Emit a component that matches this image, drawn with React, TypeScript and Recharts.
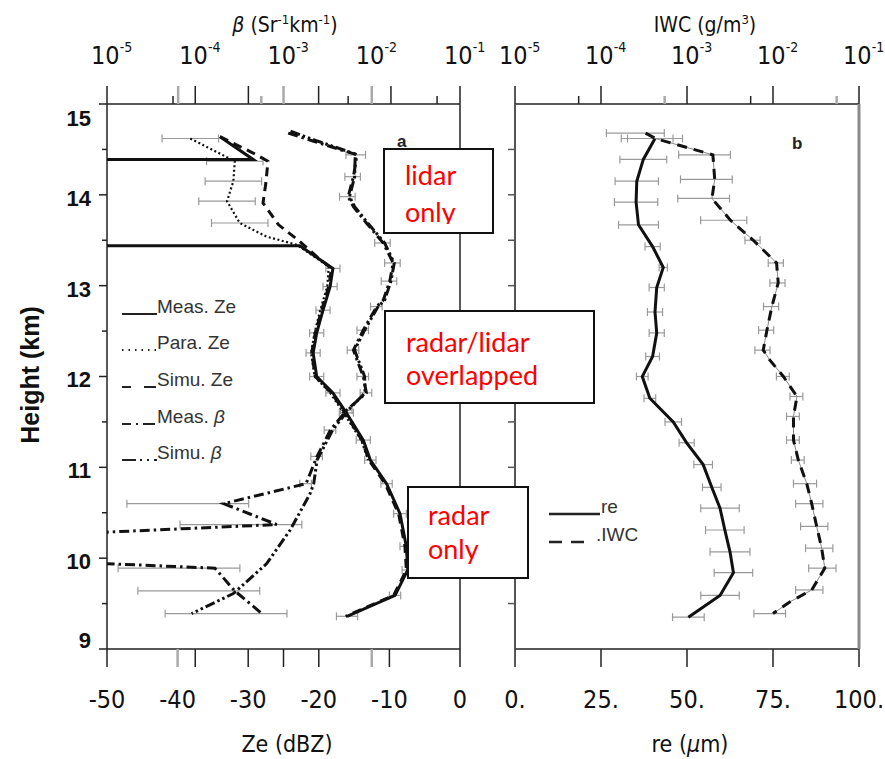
import React from "react";
import { ScatterChart, Scatter, XAxis, YAxis, ErrorBar } from "recharts";

// ---------- panel a : Ze (dBZ, bottom axis) and beta (Sr-1 km-1, top log axis) ----------
// -80 dBZ / 1e-7 mark levels with no signal (they run off the left edge)
const measZeHeight = [14.64, 14.39, 14.39, 13.44, 13.44, 13.19, 12.99, 12.73, 12.48, 12.26, 12.0, 11.82, 11.6, 11.3, 11.08, 10.82, 10.49, 10.13, 9.87, 9.59, 9.36];
const measZeValue = [-34.0, -29.3, -80, -80, -22.7, -18.0, -18.4, -19.4, -20.3, -20.8, -20.3, -18.0, -16.1, -13.7, -12.7, -10.4, -8.5, -7.6, -7.4, -9.2, -16.0];
const measZeError = [0, 0, 0, 0, 0, 1.0, 1.0, 1.0, 1.0, 1.0, 1.0, 1.0, 1.0, 1.0, 0.8, 0.8, 0.9, 0.9, 0.8, 0.8, 1.5];

const paraZeHeight = [14.62, 14.37, 14.15, 13.93, 13.69, 13.54, 13.45, 13.21, 12.99, 12.73, 12.48, 12.26, 12.0, 11.82, 11.6, 11.3, 11.08];
const paraZeValue = [-38.2, -31.9, -32.1, -33.0, -31.2, -27.4, -23.1, -18.6, -18.8, -19.8, -20.6, -21.1, -20.6, -18.4, -16.5, -14.0, -13.0];
const paraZeError = [4, 4, 4, 4, 4, 0, 0, 0, 0, 0, 0, 0, 0, 0, 0, 0, 0];

const simuZeHeight = [14.64, 14.46, 14.37, 14.13, 13.91, 13.67, 13.5, 13.3, 13.19, 12.99, 12.73, 12.48, 12.26, 12.0, 11.82, 11.6, 11.3, 11.08, 10.82, 10.49, 10.13, 9.87, 9.59, 9.36];
const simuZeValue = [-34.0, -29.3, -27.2, -27.5, -27.9, -25.7, -22.9, -20.0, -18.2, -18.6, -19.6, -20.5, -21.0, -20.5, -18.2, -16.3, -13.9, -12.9, -10.6, -8.7, -7.8, -7.6, -9.4, -16.2];

const measBetaHeight = [14.68, 14.59, 14.44, 14.2, 13.98, 13.87, 13.69, 13.47, 13.25, 13.05, 12.84, 12.77, 12.51, 12.29, 12.0, 11.82, 11.63, 11.41, 11.12, 10.82, 10.6, 10.37, 10.2, 10.02, 9.89, 9.64, 9.39];
const measBetaValue = [1.13e-3, 2.2e-3, 6.8e-3, 6.2e-3, 5.4e-3, 6.2e-3, 8.7e-3, 1.35e-2, 1.75e-2, 1.6e-2, 1.35e-2, 1.14e-2, 8.0e-3, 6.2e-3, 8.0e-3, 8.7e-3, 5.2e-3, 3.4e-3, 2.4e-3, 1.8e-3, 2.1e-4, 8.4e-4, 1e-7, 1e-7, 1.67e-4, 2.8e-4, 5.7e-4];
const measBetaRelError = [0, 0, 0.25, 0.2, 0.2, 0, 0, 0.2, 0.2, 0.2, 0, 0.15, 0.15, 0.15, 0.15, 0.15, 0.15, 0.15, 0.15, 0.15, 0.92, 0.92, 0, 0, 0.92, 0.92, 0.92];

const simuBetaHeight = [14.7, 14.6, 14.45, 14.2, 13.98, 13.87, 13.69, 13.47, 13.25, 13.05, 12.84, 12.77, 12.51, 12.29, 12.0, 11.82, 11.63, 11.41, 11.08, 10.82, 10.71, 10.31, 9.94, 9.61, 9.39];
const simuBetaValue = [1.2e-3, 2.3e-3, 6.5e-3, 6.4e-3, 5.6e-3, 6.4e-3, 9.0e-3, 1.4e-2, 1.8e-2, 1.65e-2, 1.4e-2, 1.18e-2, 8.3e-3, 6.4e-3, 8.3e-3, 8.4e-3, 5.4e-3, 3.6e-3, 2.4e-3, 2.2e-3, 2.0e-3, 1.19e-3, 6.45e-4, 2.7e-4, 9.1e-5];

// ---------- panel b : re (um, bottom axis) and IWC (g/m3, top log axis) ----------
const reHeight = [14.62, 14.39, 14.15, 13.92, 13.67, 13.43, 13.2, 12.98, 12.71, 12.48, 12.22, 12.0, 11.76, 11.5, 11.27, 11.03, 10.78, 10.55, 10.31, 10.07, 9.84, 9.59, 9.35];
const reValue = [40.7, 37.3, 35.4, 35.2, 35.9, 40.0, 43.1, 41.2, 40.7, 41.2, 40.0, 37.0, 39.2, 46.0, 49.9, 54.7, 57.2, 59.6, 61.0, 62.5, 63.5, 59.6, 50.4];
const reError = [8, 6.8, 6.3, 6.3, 5.8, 2.2, 1.2, 2.2, 2.2, 2.2, 2.0, 1.7, 1.7, 2.4, 2.2, 2.7, 2.7, 5.6, 5.6, 5.8, 5.6, 5.6, 4.6];

const iwcHeight = [14.68, 14.62, 14.44, 14.17, 13.96, 13.72, 13.5, 13.25, 13.03, 12.77, 12.51, 12.29, 12.18, 12.0, 11.78, 11.56, 11.3, 11.08, 10.82, 10.6, 10.35, 10.11, 9.89, 9.65, 9.52, 9.39];
const iwcValue = [3.3e-4, 4.3e-4, 2.0e-3, 2.1e-3, 1.95e-3, 3.2e-3, 5.9e-3, 1.1e-2, 1.15e-2, 9.7e-3, 8.5e-3, 7.7e-3, 9.2e-3, 1.32e-2, 1.9e-2, 1.73e-2, 1.73e-2, 1.97e-2, 2.47e-2, 2.82e-2, 3.22e-2, 3.68e-2, 4.0e-2, 2.82e-2, 1.58e-2, 1.0e-2];
const iwcRelError = [0.65, 0.6, 0.6, 0.6, 0.6, 0.55, 0.2, 0.2, 0.2, 0.2, 0.2, 0.2, 0, 0.17, 0.17, 0.17, 0.17, 0.17, 0.3, 0.35, 0.35, 0.35, 0.35, 0.35, 0, 0.4];

// ---------- ticks ----------
const heightTicks = [9, 9.5, 10, 10.5, 11, 11.5, 12, 12.5, 13, 13.5, 14, 14.5, 15];
const zeTicks = [-50, -40, -37.5, -30, -25, -20, -12.5, -10, 0];
const zeLabels = [-50, -40, -30, -20, -10, 0];
const betaTicks = [1e-5, 5.6e-5, 6.4e-5, 1e-4, 4e-4, 5.6e-4, 1e-3, 2.5e-3, 5.4e-3, 1e-2, 1.65e-2, 5.5e-2, 1e-1];
const reTicks = [0, 25, 50, 75, 100];
const iwcTicks = [1e-5, 5.5e-5, 1e-4, 5.5e-4, 1e-3, 5.5e-3, 1e-2, 5.5e-2, 1e-1];
const decades = [1e-5, 1e-4, 1e-3, 1e-2, 1e-1];

type Pt = { x: number; y: number; err?: number };
const profile = (h: number[], v: number[], e?: number[]): Pt[] =>
  h.map((y, i) => ({ y, x: v[i], err: e && e[i] ? e[i] : undefined }));
const rel = (v: number[], r: number[]) => v.map((x, i) => x * r[i]);

const measZe = profile(measZeHeight, measZeValue, measZeError);
const paraZe = profile(paraZeHeight, paraZeValue, paraZeError);
const simuZe = profile(simuZeHeight, simuZeValue);
const measBeta = profile(measBetaHeight, measBetaValue, rel(measBetaValue, measBetaRelError));
const simuBeta = profile(simuBetaHeight, simuBetaValue);
const re = profile(reHeight, reValue, reError);
const iwc = profile(iwcHeight, iwcValue, rel(iwcValue, iwcRelError));

const INK = "#222";
const GRAY = "#9a9a9a";
const NARROW = '"Liberation Sans Narrow", "DejaVu Sans Condensed", "Liberation Sans", sans-serif';
const SANS = '"Liberation Sans", Arial, sans-serif';
const RED_FONT = 'Lato, "Open Sans", sans-serif';

const NoDot = () => <g />;

function HeightTickLeft(props: any) {
  const { x, y, payload } = props;
  const v = payload.value as number;
  const major = Number.isInteger(v);
  const dy = v === 15 ? 14 : v === 9 ? -9 : 3;
  return (
    <g>
      <line x1={x - (major ? 8 : 5)} x2={x} y1={y} y2={y} stroke={INK} strokeWidth={1.5} />
      {major && (
        <text x={x - 16} y={y + dy} dy="0.36em" textAnchor="end" fontFamily={SANS} fontWeight="bold" fontSize={22} fill="#111">
          {v}
        </text>
      )}
    </g>
  );
}

const outTick = (dir: number, len: number, color: string) => (props: any) => {
  const { x, y } = props;
  return <line x1={x} x2={x + dir * len} y1={y} y2={y} stroke={color} strokeWidth={1.5} />;
};

const makeTopTick = (majors: number[], grays: number[]) => (props: any) => {
  const { x, y, payload } = props;
  const v = payload.value as number;
  const isDecade = decades.some((d) => Math.abs(d - v) / d < 1e-6);
  const long = isDecade || majors.includes(v);
  const gray = grays.includes(v);
  return (
    <g>
      <line x1={x} x2={x} y1={y} y2={y - (long ? 18 : 8)} stroke={gray ? "#aaa" : INK} strokeWidth={gray ? 2.5 : 1.5} />
      {isDecade && (
        <text x={x - 16} y={y - 40} fontFamily={NARROW} fontSize={25} fill="#111">
          10
          <tspan dy={-12} fontSize={14}>
            {Math.round(Math.log10(v))}
          </tspan>
        </text>
      )}
    </g>
  );
};

const BetaTopTick = makeTopTick([6.4e-5, 4e-4, 2.5e-3, 1.65e-2], [6.4e-5, 5.6e-4, 1e-3, 1e-2]);
const IwcTopTick = makeTopTick([], [5.5e-4, 5.5e-2]);

function ZeTick(props: any) {
  const { x, y, payload } = props;
  const v = payload.value as number;
  const gray = v === -40 || v === -12.5;
  return (
    <g>
      <line x1={x} x2={x} y1={y} y2={y + 18} stroke={gray ? "#aaa" : INK} strokeWidth={gray ? 2.5 : 1.5} />
      {zeLabels.includes(v) && (
        <text x={x} y={y + 59} textAnchor="middle" fontFamily={NARROW} fontSize={25} fill="#111">
          {v}
        </text>
      )}
    </g>
  );
}

function ReTick(props: any) {
  const { x, y, payload } = props;
  return (
    <g>
      <line x1={x} x2={x} y1={y} y2={y + 18} stroke={INK} strokeWidth={1.5} />
      <text x={x} y={y + 59} textAnchor="middle" fontFamily={NARROW} fontSize={25} fill="#111">
        {`${payload.value}.`}
      </text>
    </g>
  );
}

const lineStyle = (w: number, dash?: string) => ({ stroke: "#111", strokeWidth: w, strokeDasharray: dash, fill: "none" });
const bar = <ErrorBar dataKey="err" direction="x" width={4} stroke={GRAY} strokeWidth={1.2} />;

function PanelA() {
  return (
    <ScatterChart width={500} height={759} margin={{ top: 0, right: 0, bottom: 0, left: 0 }}>
      <XAxis xAxisId="ze" orientation="bottom" type="number" dataKey="x" domain={[-50, 0]} allowDataOverflow ticks={zeTicks} interval={0} height={110} tickSize={0} tickMargin={0} tick={ZeTick} axisLine={{ stroke: INK, strokeWidth: 1.5 }} />
      <XAxis xAxisId="beta" orientation="top" type="number" scale="log" dataKey="x" domain={[1e-5, 1e-1]} allowDataOverflow ticks={betaTicks} interval={0} height={104} tickSize={0} tickMargin={0} tick={BetaTopTick} axisLine={{ stroke: INK, strokeWidth: 1.5 }} />
      <YAxis yAxisId="h" orientation="left" type="number" dataKey="y" domain={[9, 15]} allowDataOverflow ticks={heightTicks} interval={0} width={107} tickSize={0} tickMargin={0} tick={HeightTickLeft} axisLine={{ stroke: INK, strokeWidth: 1.5 }} />
      <YAxis yAxisId="hr" orientation="right" type="number" dataKey="y" domain={[9, 15]} ticks={heightTicks.slice(1, -1)} interval={0} width={40} tickSize={0} tickMargin={0} tick={outTick(1, 6, INK)} axisLine={{ stroke: INK, strokeWidth: 1.5 }} />

      <Scatter name="Meas. Ze" data={measZe} xAxisId="ze" yAxisId="h" shape={NoDot} line={lineStyle(3)} isAnimationActive={false}>
        {bar}
      </Scatter>
      <Scatter name="Para. Ze" data={paraZe} xAxisId="ze" yAxisId="h" shape={NoDot} line={lineStyle(2.2, "2 2.5")} isAnimationActive={false}>
        {bar}
      </Scatter>
      <Scatter name="Simu. Ze" data={simuZe} xAxisId="ze" yAxisId="h" shape={NoDot} line={lineStyle(3, "9 6")} isAnimationActive={false} />
      <Scatter name="Meas. beta" data={measBeta} xAxisId="beta" yAxisId="h" shape={NoDot} line={lineStyle(3, "10 4 2.5 4")} isAnimationActive={false}>
        {bar}
      </Scatter>
      <Scatter name="Simu. beta" data={simuBeta} xAxisId="beta" yAxisId="h" shape={NoDot} line={lineStyle(3, "10 3 2.5 3 2.5 3")} isAnimationActive={false} />
    </ScatterChart>
  );
}

function PanelB() {
  return (
    <ScatterChart width={405} height={759} margin={{ top: 0, right: 0, bottom: 0, left: 0 }}>
      <XAxis xAxisId="re" orientation="bottom" type="number" dataKey="x" domain={[0, 100]} ticks={reTicks} interval={0} height={110} tickSize={0} tickMargin={0} tick={ReTick} axisLine={{ stroke: INK, strokeWidth: 1.5 }} />
      <XAxis xAxisId="iwc" orientation="top" type="number" scale="log" dataKey="x" domain={[1e-5, 1e-1]} allowDataOverflow ticks={iwcTicks} interval={0} height={104} tickSize={0} tickMargin={0} tick={IwcTopTick} axisLine={{ stroke: INK, strokeWidth: 1.5 }} />
      <YAxis yAxisId="h" orientation="left" type="number" dataKey="y" domain={[9, 15]} ticks={heightTicks.slice(1, -1)} interval={0} width={35} tickSize={0} tickMargin={0} tick={outTick(-1, 7, "#555")} axisLine={{ stroke: "#555", strokeWidth: 2 }} />
      <YAxis yAxisId="hr" orientation="right" type="number" dataKey="y" domain={[9, 15]} ticks={heightTicks.slice(1, -1)} interval={0} width={26} tickSize={0} tickMargin={0} tick={outTick(1, 7, "#666")} axisLine={{ stroke: "#8a8a8a", strokeWidth: 3 }} />

      <Scatter name="re" data={re} xAxisId="re" yAxisId="h" shape={NoDot} line={lineStyle(3)} isAnimationActive={false}>
        {bar}
      </Scatter>
      <Scatter name="IWC thin" data={iwc} xAxisId="iwc" yAxisId="h" shape={NoDot} line={{ stroke: "#888", strokeWidth: 1, fill: "none" }} isAnimationActive={false}>
        {bar}
      </Scatter>
      <Scatter name="IWC" data={iwc} xAxisId="iwc" yAxisId="h" shape={NoDot} line={lineStyle(3, "10 7")} isAnimationActive={false} />
    </ScatterChart>
  );
}

function Overlay() {
  const leg = { fontFamily: SANS, fontSize: 19, fill: "#333" };
  const red = { fontFamily: RED_FONT, fontSize: 27, fill: "#ff0000" };
  const title = { fontFamily: NARROW, fontSize: 21, fill: "#111" };
  return (
    <svg width={885} height={759} style={{ position: "absolute", left: 0, top: 0, pointerEvents: "none" }}>
      <defs>
        <clipPath id="onlyClip">
          <rect x={384} y={149} width={109} height={75} />
        </clipPath>
      </defs>
      {/* axis titles */}
      <text x={285} y={32} textAnchor="middle" {...title}>
        <tspan fontStyle="italic">β</tspan> (Sr<tspan dy={-8} fontSize={13}>-1</tspan>
        <tspan dy={8}>km</tspan>
        <tspan dy={-8} fontSize={13}>-1</tspan>
        <tspan dy={8}>)</tspan>
      </text>
      <text x={705} y={32} textAnchor="middle" {...title}>
        IWC (g/m<tspan dy={-8} fontSize={13}>3</tspan>
        <tspan dy={8}>)</tspan>
      </text>
      <text x={287} y={752} textAnchor="middle" {...title} fontSize={23}>
        Ze (dBZ)
      </text>
      <text x={690} y={752} textAnchor="middle" {...title} fontSize={23}>
        re (<tspan fontStyle="italic">µ</tspan>m)
      </text>
      <text x={39} y={375} textAnchor="middle" transform="rotate(-90 39 375)" fontFamily={SANS} fontWeight="bold" fontSize={25} fill="#111">
        Height (km)
      </text>
      <text x={397} y={147} fontFamily={SANS} fontWeight="bold" fontSize={17} fill="#222">a</text>
      <text x={792} y={149} fontFamily={SANS} fontWeight="bold" fontSize={17} fill="#222">b</text>

      {/* legend panel a */}
      <g stroke="#222" strokeWidth={2}>
        <line x1={122} x2={157} y1={314} y2={314} />
        <line x1={122} x2={156} y1={350} y2={350} strokeDasharray="1.5 5" />
        <line x1={122} x2={157} y1={387} y2={387} strokeDasharray="9 13 12" />
        <line x1={122} x2={157} y1={424} y2={424} strokeDasharray="9 5 2 5 12" />
        <line x1={122} x2={157} y1={460} y2={460} strokeDasharray="14 4 2 5 2 5" />
      </g>
      <text x={157} y={313} {...leg}>Meas. Ze</text>
      <text x={157} y={349} {...leg}>Para. Ze</text>
      <text x={157} y={386} {...leg}>Simu. Ze</text>
      <text x={157} y={423} {...leg}>
        Meas. <tspan fontStyle="italic">β</tspan>
      </text>
      <text x={157} y={459} {...leg}>
        Simu. <tspan fontStyle="italic">β</tspan>
      </text>

      {/* legend panel b */}
      <line x1={549} x2={600} y1={514} y2={514} stroke="#222" strokeWidth={2.5} />
      <line x1={549} x2={586} y1={542} y2={542} stroke="#222" strokeWidth={2.5} strokeDasharray="13 9" />
      <text x={601} y={513} {...leg}>re</text>
      <text x={596} y={541} {...leg}>.IWC</text>

      {/* annotation boxes */}
      <rect x={384} y={149} width={109} height={84} fill="#fff" stroke="#111" strokeWidth={2} />
      <text x={405} y={185} {...red}>lidar</text>
      <text x={405} y={222} {...red} clipPath="url(#onlyClip)">only</text>

      <rect x={385} y={311} width={209} height={92} fill="#fff" stroke="#111" strokeWidth={2} />
      <text x={406} y={352} {...red}>radar/lidar</text>
      <text x={406} y={385} {...red}>overlapped</text>

      <rect x={408} y={487} width={120} height={91} fill="#fff" stroke="#111" strokeWidth={2} />
      <text x={428} y={525} {...red}>radar</text>
      <text x={428} y={559} {...red}>only</text>
    </svg>
  );
}

export default function App() {
  return (
    <div style={{ position: "absolute", left: 0, top: 0, width: 885, height: 759, background: "#fff", overflow: "hidden" }}>
      <div style={{ position: "absolute", left: 480, top: 0 }}>
        <PanelB />
      </div>
      <div style={{ position: "absolute", left: 0, top: 0 }}>
        <PanelA />
      </div>
      <Overlay />
    </div>
  );
}
